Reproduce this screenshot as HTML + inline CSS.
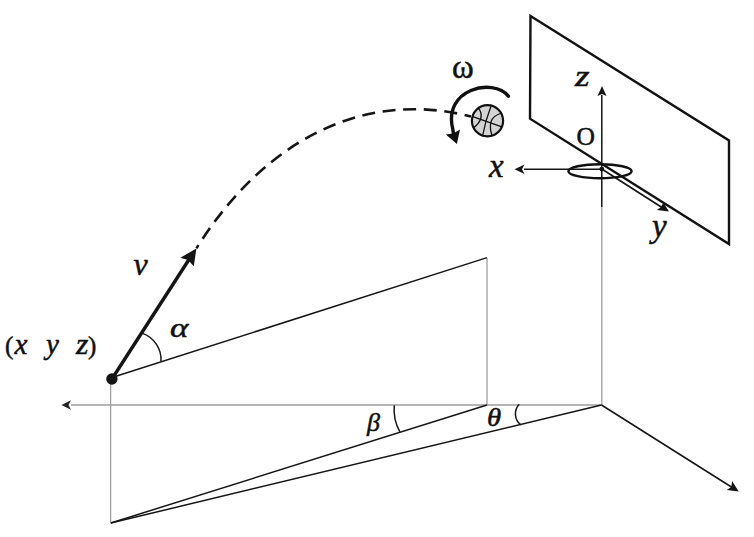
<!DOCTYPE html>
<html><head><meta charset="utf-8">
<style>
html,body{margin:0;padding:0;background:#fff;}
body{width:754px;height:537px;overflow:hidden;}
svg{display:block;}
text{font-family:"Liberation Serif",serif;fill:#111;}
.it{font-style:italic;}
</style></head>
<body>
<svg width="754" height="537" viewBox="0 0 754 537">
<!-- gray construction lines -->
<g stroke="#9e9e9e" stroke-width="1.3" fill="none">
  <line x1="71" y1="405" x2="601.5" y2="405"/>
  <line x1="110.6" y1="378" x2="110.6" y2="523"/>
  <line x1="487" y1="258" x2="487" y2="405"/>
  <line x1="601.8" y1="207" x2="601.8" y2="405"/>
</g>
<polygon points="61.5,405 71,400.2 68.5,405 71,409.8" fill="#222"/>
<!-- black thin lines -->
<g stroke="#151515" stroke-width="1.5" fill="none">
  <line x1="112" y1="377.5" x2="487" y2="257.6"/>
  <line x1="110.8" y1="523" x2="487" y2="405"/>
  <line x1="110.8" y1="523" x2="601.5" y2="405"/>
  <line x1="601.5" y1="405" x2="733" y2="488"/>
  <line x1="601.8" y1="95" x2="601.8" y2="207"/>
  <line x1="524" y1="169.3" x2="601.8" y2="169.3"/>
  <line x1="601.8" y1="169" x2="662" y2="207.5" stroke-width="1.6"/>
  <path d="M142.6,333.4 A28,28 0 0 1 161,361.5"/>
  <path d="M394.3,405.4 A45,45 0 0 0 399.9,431.9"/>
  <path d="M519.2,404.3 A14,14 0 0 0 520.8,424.9"/>
</g>
<!-- arrowheads -->
<polygon points="738.7,491.4 726.7,489.9 731.3,486.9 732.1,481.1" fill="#151515"/>
<polygon points="602,86 597.5,96 602,94 606.5,96" fill="#151515"/>
<polygon points="514.5,169.3 524.5,164.5 522,169.3 524.5,174" fill="#151515"/>
<polygon points="669,211.6 656.8,210 660.5,207.5 663.5,202.8" fill="#151515"/>
<!-- backboard -->
<polygon points="530.5,16 729,140.5 729,244 530,118.7" fill="none" stroke="#111" stroke-width="2.4" stroke-linejoin="miter"/>
<!-- rim -->
<ellipse cx="600" cy="171.2" rx="31.6" ry="7" fill="none" stroke="#111" stroke-width="2.4"/>
<circle cx="601.8" cy="169.1" r="2.4" fill="#111"/>
<!-- velocity arrow -->
<line x1="111.9" y1="379" x2="189" y2="259.5" stroke="#151515" stroke-width="3.4"/>
<polygon points="196.4,248.4 180.4,257.7 188,260 193.8,266.3" fill="#151515"/>
<circle cx="111.9" cy="379" r="5.7" fill="#151515"/>
<!-- trajectory -->
<path d="M196.4,248.4 C264.1,140.5 363.2,89 471,116.5" fill="none" stroke="#151515" stroke-width="2.6" stroke-dasharray="13 7.64" stroke-dashoffset="9.2"/>
<!-- ball -->
<circle cx="487.5" cy="120.7" r="15.6" fill="#d4d4d4" stroke="#111" stroke-width="2.2"/>
<g stroke="#111" stroke-width="1.3" fill="none">
  <path d="M472.1,116.4 L501.2,126.6"/>
  <path d="M491.4,104.9 Q485.5,120 482.4,136.5"/>
  <path d="M478.3,107.8 Q486,118 473.4,127.9"/>
  <path d="M500.4,113.5 Q486,118 492.2,136"/>
</g>
<!-- rotation arrow -->
<path d="M508.4,96.1 C493.1,77.3 442.3,88.8 452.9,129.7 L453.6,135" fill="none" stroke="#111" stroke-width="3.4" stroke-linecap="round"/>
<polygon points="445.8,134.4 453.2,133.4 460,129.4 456.9,143.9" fill="#111"/>
<!-- labels -->
<g stroke="#111" stroke-width="0.5">
<text x="452" y="78" font-size="33">ω</text>
<text transform="translate(575,86) scale(1.25,1)" font-size="30" class="it">z</text>
<text x="576.5" y="144.8" font-size="25.5">O</text>
<text x="489" y="177" font-size="33" class="it">x</text>
<text x="652" y="237" font-size="33" class="it">y</text>
<text x="133.5" y="275" font-size="32" class="it">v</text>
<text transform="translate(170,337) scale(1.25,1)" font-size="28" class="it">α</text>
<text x="5" y="354" font-size="25">(</text>
<text x="14.5" y="354" font-size="29" class="it">x</text>
<text x="46" y="354" font-size="29" class="it">y</text>
<text transform="translate(76,354) scale(1.1,1)" font-size="29" class="it">z</text>
<text x="88" y="354" font-size="25">)</text>
<text x="367" y="431" font-size="26" class="it">β</text>
<text transform="translate(487,426) scale(1.15,1)" font-size="25" class="it">θ</text>
</g>
</svg>
</body></html>
